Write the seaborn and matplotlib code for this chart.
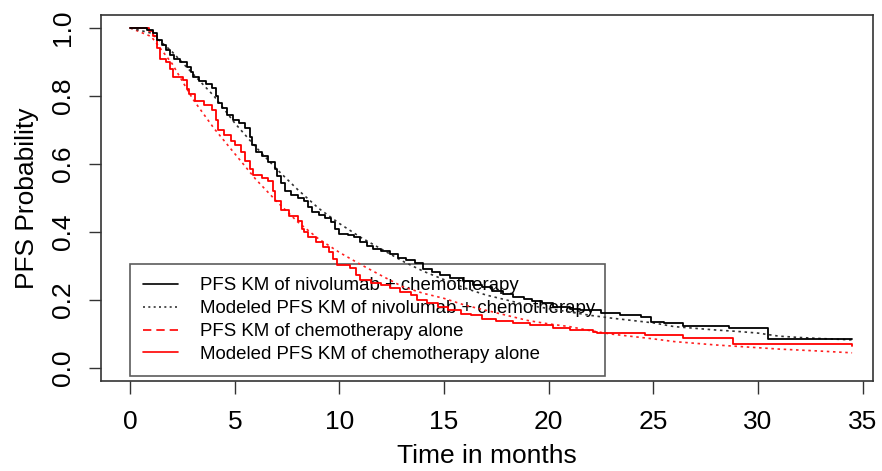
import matplotlib
matplotlib.use("Agg")
import matplotlib.pyplot as plt
from matplotlib.lines import Line2D
import seaborn as sns
import pandas as pd

# Kaplan-Meier steps, nivolumab + chemotherapy (time in months, PFS after step)
nivo_km_t = [0, 0.8, 1.1, 1.3, 1.5, 1.7, 1.9, 2.1, 2.4, 2.7, 2.9, 3.0, 3.3, 3.6, 3.9,
             4.1, 4.2, 4.4, 4.6, 4.9, 5.2, 5.5, 5.7, 5.8, 6.0, 6.3, 6.6, 6.9, 7.0, 7.2,
             7.4, 7.7, 8.0, 8.3, 8.5, 8.7, 9.0, 9.3, 9.6, 9.8, 10.0, 10.4, 10.7, 11.0,
             11.3, 11.6, 12.0, 12.4, 12.8, 13.2, 13.6, 14.0, 14.4, 14.8, 15.3, 15.9,
             16.4, 16.8, 17.3, 17.8, 18.3, 18.8, 19.2, 19.7, 20.2, 21.0, 21.5, 22.5,
             23.4, 24.4, 24.9, 25.5, 26.4, 28.6, 30.5, 34.5]
nivo_km_s = [1.0, 0.995, 0.985, 0.965, 0.95, 0.935, 0.92, 0.91, 0.9, 0.885, 0.87, 0.855,
             0.845, 0.835, 0.825, 0.8, 0.78, 0.765, 0.745, 0.73, 0.72, 0.705, 0.68, 0.655,
             0.635, 0.625, 0.605, 0.585, 0.565, 0.545, 0.52, 0.51, 0.5, 0.49, 0.475, 0.46,
             0.45, 0.44, 0.43, 0.41, 0.395, 0.39, 0.385, 0.37, 0.36, 0.35, 0.345, 0.335,
             0.325, 0.318, 0.31, 0.29, 0.282, 0.275, 0.265, 0.255, 0.245, 0.238, 0.228,
             0.218, 0.21, 0.203, 0.198, 0.19, 0.18, 0.175, 0.17, 0.162, 0.156, 0.15,
             0.136, 0.132, 0.124, 0.118, 0.085, 0.085]

# Kaplan-Meier steps, chemotherapy alone
chemo_km_t = [0, 0.9, 1.1, 1.3, 1.4, 1.7, 1.9, 2.05, 2.5, 2.7, 2.8, 3.1, 3.5, 3.9, 4.1,
              4.2, 4.5, 4.8, 5.0, 5.3, 5.5, 5.7, 5.85, 6.3, 6.6, 6.8, 6.9, 7.2, 7.6, 8.0,
              8.2, 8.3, 8.5, 8.9, 9.2, 9.5, 9.7, 9.9, 10.5, 10.8, 11.0, 11.5, 12.0, 12.4,
              12.9, 13.4, 13.7, 14.2, 14.7, 15.2, 15.8, 16.3, 16.8, 17.5, 18.3, 19.1,
              20.2, 21.0, 22.1, 22.3, 24.6, 26.4, 28.8, 34.5]
chemo_km_s = [1.0, 0.99, 0.975, 0.94, 0.91, 0.9, 0.88, 0.857, 0.848, 0.82, 0.805, 0.785,
              0.775, 0.76, 0.73, 0.7, 0.685, 0.668, 0.655, 0.635, 0.61, 0.585, 0.568, 0.56,
              0.55, 0.52, 0.49, 0.465, 0.448, 0.432, 0.41, 0.4, 0.385, 0.37, 0.355, 0.34,
              0.32, 0.303, 0.295, 0.275, 0.26, 0.25, 0.244, 0.235, 0.225, 0.215, 0.2, 0.19,
              0.18, 0.17, 0.16, 0.155, 0.145, 0.138, 0.132, 0.126, 0.118, 0.112, 0.106,
              0.103, 0.097, 0.088, 0.072, 0.065]

# modeled curves
model_t = [0, 1, 2, 3, 4, 5, 6, 7, 8, 9, 10, 11, 12, 13, 14, 15, 16, 17, 18, 19, 20,
           21, 22, 23, 24, 25, 26, 27, 28, 29, 30, 31, 32, 33, 34.5]
nivo_model = [1.0, 0.985, 0.93, 0.865, 0.80, 0.72, 0.65, 0.585, 0.525, 0.47, 0.425, 0.385,
              0.35, 0.315, 0.285, 0.26, 0.235, 0.215, 0.2, 0.185, 0.175, 0.165, 0.155,
              0.147, 0.14, 0.133, 0.122, 0.117, 0.112, 0.108, 0.103, 0.094, 0.09, 0.087,
              0.083]
chemo_model = [1.0, 0.975, 0.895, 0.79, 0.705, 0.63, 0.555, 0.49, 0.43, 0.38, 0.34, 0.305,
               0.272, 0.24, 0.22, 0.205, 0.185, 0.17, 0.155, 0.14, 0.13, 0.122, 0.11, 0.1,
               0.093, 0.086, 0.078, 0.073, 0.068, 0.064, 0.06, 0.056, 0.053, 0.05, 0.045]

legend_labels = ["PFS KM of nivolumab + chemotherapy",
                 "Modeled PFS KM of nivolumab + chemotherapy",
                 "PFS KM of chemotherapy alone",
                 "Modeled PFS KM of chemotherapy alone"]
x_ticks = [0, 5, 10, 15, 20, 25, 30, 35]
y_ticks = [0.0, 0.2, 0.4, 0.6, 0.8, 1.0]

sns.set_style("white")
plt.rcParams["font.family"] = ["Liberation Sans", "DejaVu Sans"]
plt.rcParams["text.color"] = "black"
plt.rcParams["axes.labelcolor"] = "black"
plt.rcParams["xtick.color"] = "black"
plt.rcParams["ytick.color"] = "black"

fig = plt.figure(figsize=(8.82, 4.71), dpi=100)
ax = fig.add_axes([0.1145, 0.191, 0.8753, 0.777])

nivo_km = pd.DataFrame({"t": nivo_km_t, "s": nivo_km_s})
chemo_km = pd.DataFrame({"t": chemo_km_t, "s": chemo_km_s})
models = pd.DataFrame({"t": model_t, "nivo": nivo_model, "chemo": chemo_model})

# modeled curves (dotted) under the observed KM steps
sns.lineplot(data=models, x="t", y="chemo", ax=ax, color="#ff2020", lw=1.2,
             linestyle=(0, (1.5, 2.2)), estimator=None, zorder=3)
sns.lineplot(data=models, x="t", y="nivo", ax=ax, color="#333333", lw=1.2,
             linestyle=(0, (1.5, 2.2)), estimator=None, zorder=3)
sns.lineplot(data=chemo_km, x="t", y="s", ax=ax, color="red", lw=1.3,
             drawstyle="steps-post", estimator=None, zorder=4)
sns.lineplot(data=nivo_km, x="t", y="s", ax=ax, color="black", lw=1.3,
             drawstyle="steps-post", estimator=None, zorder=4)

ax.set_xlim(-1.4, 35.5)
ax.set_ylim(-0.038, 1.038)
ax.set_xticks(x_ticks)
ax.set_yticks(y_ticks)
ax.set_xticklabels([str(v) for v in x_ticks], fontsize=19)
ax.set_yticklabels(["%.1f" % v for v in y_ticks], fontsize=19, rotation=90, va="center")
ax.tick_params(axis="both", direction="out", length=9, width=1, color="#333333",
               bottom=True, left=True)
ax.tick_params(axis="x", pad=12)
ax.tick_params(axis="y", pad=10)
ax.set_xlabel("Time in months", fontsize=19, labelpad=7)
ax.set_ylabel("PFS Probability", fontsize=19, labelpad=8)
for sp in ax.spines.values():
    sp.set_color("#333333")
    sp.set_linewidth(1.2)

# legend as printed in the original (line styles included)
handles = [Line2D([], [], color="black", lw=1.2),
           Line2D([], [], color="#333333", lw=1.2, linestyle=(0, (1.2, 2))),
           Line2D([], [], color="red", lw=1.2, linestyle=(0, (5, 3))),
           Line2D([], [], color="red", lw=1.2)]
leg = ax.legend(handles, legend_labels, loc="lower left",
                bbox_to_anchor=(0.0376, 0.0137, 0.615, 0.303), mode="expand",
                fontsize=13.4, frameon=True, fancybox=False, edgecolor="#333333",
                facecolor="none", framealpha=None, handlelength=1.87,
                handletextpad=1.17, labelspacing=0.32, borderaxespad=0,
                borderpad=0.7)
leg.get_frame().set_linewidth(1.2)
leg.set_zorder(2)

fig.savefig("out.png", dpi=100)
